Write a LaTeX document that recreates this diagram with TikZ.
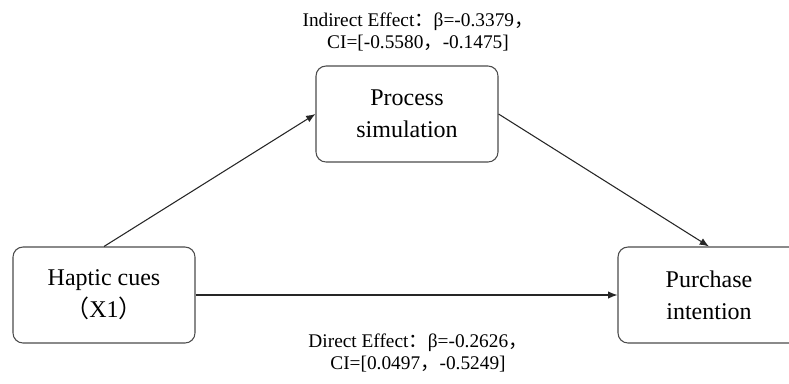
\documentclass[tikz,border=0pt]{standalone}
\usepackage{fontspec}
\setmainfont{Liberation Serif}
\newfontfamily\cjk{Noto Sans CJK SC}
\usetikzlibrary{arrows.meta}

\begin{document}
\begin{tikzpicture}[x=0.75pt,y=0.75pt]
\tikzstyle{every node}+=[inner sep=0pt]
\tikzstyle{var}=[draw=black!70,line width=0.8pt,rounded corners=7.5pt,minimum width=136.5pt,minimum height=72pt,align=center,font=\fontsize{18}{24}\selectfont]
\tikzstyle{effect}=[align=center,font=\fontsize{14.5}{17}\selectfont]
\tikzstyle{link}=[black!85,line width=0.8pt,-{Latex[length=7pt,width=5.5pt]}]
\useasboundingbox (0,0) rectangle (789,-383);
\node [var] (hap) at (104,-295) {Haptic cues\\{\cjk （}X1{\cjk ）}};
\node [var] (proc) at (407,-114) {Process\\simulation};
\node [var] (pur) at (709,-295) {Purchase\\intention};
\node [effect] (ind) at (418,-32) {Indirect Effect{\cjk ：}β=-0.3379{\cjk ，}\\CI=[-0.5580{\cjk ，}-0.1475]};
\node [effect] (dir) at (418,-353) {Direct Effect{\cjk ：}β=-0.2626{\cjk ，}\\CI=[0.0497{\cjk ，}-0.5249]};
\draw [link] (hap.north) -- (proc.west);
\draw [link] (proc.east) -- (pur.north);
\draw [link] (hap.east) -- (pur.west);
\end{tikzpicture}
\end{document}
